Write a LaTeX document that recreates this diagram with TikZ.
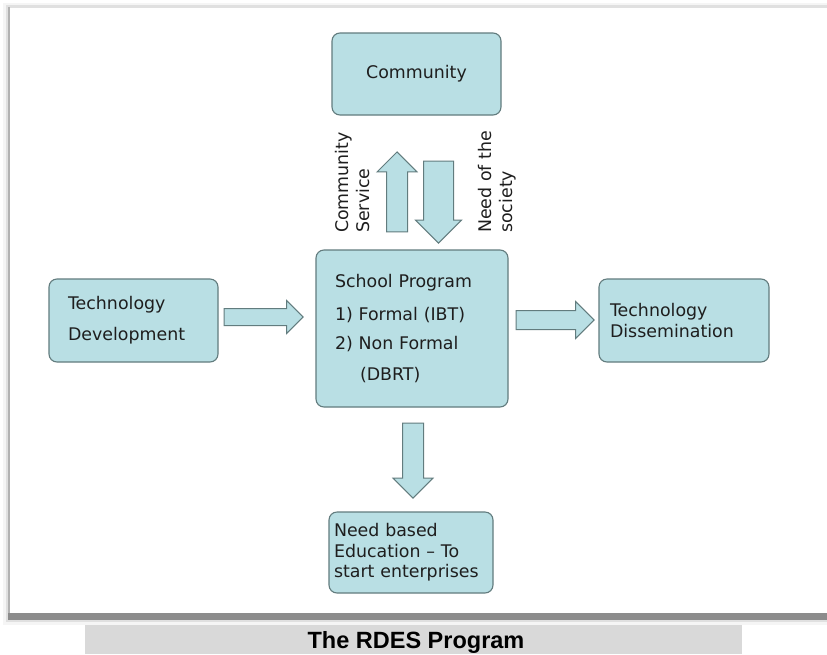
\documentclass[tikz,border=0pt]{standalone}
\usepackage{fontspec}
\setmainfont{DejaVu Sans}
\newfontfamily\capfont{Liberation Sans}
\usetikzlibrary{shapes.arrows,calc}
\definecolor{boxfill}{RGB}{185,223,228}
\definecolor{boxline}{RGB}{98,124,126}
\definecolor{txt}{RGB}{30,30,30}
\definecolor{capgray}{RGB}{217,217,217}
\tikzset{
  box/.style={draw=boxline, fill=boxfill, line width=1.1pt,
    rounded corners=8pt, text=txt, inner sep=0pt,
    font=\fontsize{17.4}{20.5}\selectfont},
  fat/.style={single arrow, draw=boxline, fill=boxfill, anchor=tail,
    line width=1pt, inner xsep=0pt, minimum height=#1},
  lbl/.style={text=txt, inner sep=0pt, align=left, rotate=90,
    anchor=west, font=\fontsize{17.4}{21}\selectfont}
}
\begin{document}
\begin{tikzpicture}[x=1pt,y=-1pt]
  \useasboundingbox (0,0) rectangle (827,654);
  \fill[black!4] (3,3) rectangle (827,625);
  \fill[black!12] (6,5) rectangle (827,622);
  \fill[black!45] (8,613) rectangle (827,620);
  \fill[black!30] (8,7) rectangle (10,613);
  \fill[white] (10,8) rectangle (827,613);
  \fill[capgray] (85,625) rectangle (742,654);

  \node[box, minimum width=169pt, minimum height=82pt]
       (comm) at (416.5,74) {Community};
  \node[box, minimum width=169pt, minimum height=83pt,
       text width=131pt, align=left]
       (dev) at (133.5,320.5) {Technology\\[10.5pt]Development};
  \node[box, minimum width=192pt, minimum height=157pt,
       text width=154pt, align=left]
       (school) at (412,328.5) {School Program\\[12pt]1) Formal (IBT)\\[9pt]
       2) Non Formal\\[10pt]\hspace*{25pt}(DBRT)};
  \node[box, minimum width=170pt, minimum height=83pt,
       text width=148pt, align=left]
       (diss) at (684,320.5) {Technology\\Dissemination\\[8pt]};
  \node[box, minimum width=164pt, minimum height=81pt,
       text width=154pt, align=left]
       (need) at (411,552.5) {Need based\\Education -- To\\start enterprises\\[-2pt]};

  \node[fat=79pt, inner ysep=8pt, single arrow head extend=8pt]
       (adev) at ($(dev.east)+(5,-3.5)$) {};
  \node[fat=78pt, inner ysep=9pt, single arrow head extend=9pt]
       (adiss) at ($(school.east)+(7,-8.5)$) {};
  \node[fat=80pt, inner ysep=10pt, single arrow head extend=9.5pt,
       rotate=90]
       (aup) at ($(school.north)+(-15,-17)$) {};
  \node[fat=82pt, inner ysep=14.5pt, single arrow head extend=8pt,
       rotate=-90]
       (adown) at ($(comm.south)+(22,45)$) {};
  \node[fat=75pt, inner ysep=10pt, single arrow head extend=9.5pt,
       rotate=-90]
       (abot) at ($(school.south)+(1,15)$) {};

  \node[lbl] (lserv) at (353,233) {Community\\Service};
  \node[lbl] (lneed) at (497,233) {Need of the\\society};

  \node[anchor=base, inner sep=0pt, text=black,
       font=\capfont\bfseries\fontsize{23.5}{26}\selectfont]
       (title) at (416,648) {The RDES Program};
\end{tikzpicture}
\end{document}
